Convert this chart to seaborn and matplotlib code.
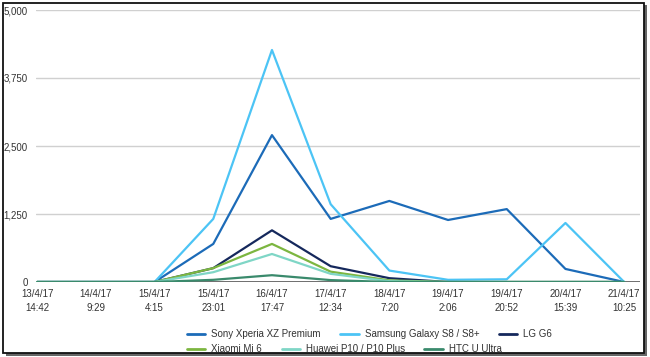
import matplotlib
matplotlib.use("Agg")
import matplotlib.pyplot as plt
from matplotlib.patches import Rectangle
from matplotlib.lines import Line2D
import seaborn as sns
import pandas as pd
import numpy as np

categories = ["13/4/17\n14:42", "14/4/17\n9:29", "15/4/17\n4:15", "15/4/17\n23:01",
              "16/4/17\n17:47", "17/4/17\n12:34", "18/4/17\n7:20", "19/4/17\n2:06",
              "19/4/17\n20:52", "20/4/17\n15:39", "21/4/17\n10:25"]

sony = [0, 0, 0, 700, 2700, 1160, 1490, 1140, 1340, 240, 0]
samsung = [0, 0, 0, 1160, 4265, 1430, 210, 40, 50, 1085, 0]
lg = [0, 0, 0, 255, 950, 290, 70, 0, 0, 0, 0]
xiaomi = [0, 0, 0, 255, 700, 190, 30, 0, 0, 0, 0]
huawei = [0, 0, 0, 180, 515, 150, 15, 0, 0, 0, 0]
htc = [0, 0, 0, 40, 125, 35, 0, 0, 0, 0, 0]

series_names = ["Sony Xperia XZ Premium", "Samsung Galaxy S8 / S8+", "LG G6",
                "Xiaomi Mi 6", "Huawei P10 / P10 Plus", "HTC U Ultra"]
series_values = [sony, samsung, lg, xiaomi, huawei, htc]
colors = ["#1c6bb8", "#4cc4f5", "#15285c", "#7cb640", "#7fd6c6", "#3a8a6c"]

yticks = [0, 1250, 2500, 3750, 5000]
ytick_labels = ["0", "1,250", "2,500", "3,750", "5,000"]

rows = []
for name, vals in zip(series_names, series_values):
    for i, v in enumerate(vals):
        rows.append({"x": i, "value": v, "series": name})
df = pd.DataFrame(rows)

sns.set_theme(style="white")
plt.rcParams["font.family"] = ["Liberation Sans", "DejaVu Sans"]

W, H = 650, 357
fig = plt.figure(figsize=(W / 100, H / 100), dpi=100)
fig.patch.set_facecolor("white")

# frame with shadow
fig.patches.append(Rectangle((6 / W, 1 - 356 / H), 641 / W, 351 / H, transform=fig.transFigure,
                             facecolor="#666666", edgecolor="none", zorder=0))
fig.patches.append(Rectangle((3 / W, 1 - 353 / H), 641 / W, 350 / H, transform=fig.transFigure,
                             facecolor="white", edgecolor="#111111", linewidth=1.3, zorder=1))

ax = fig.add_axes([36 / W, 1 - 282 / H, (640 - 36) / W, 272 / H])
ax.set_facecolor("none")
ax.set_zorder(2)

palette = dict(zip(series_names, colors))
sns.lineplot(data=df, x="x", y="value", hue="series", hue_order=series_names,
             palette=palette, linewidth=1.6, ax=ax, legend=False, zorder=3)

ax.set_ylim(0, 5000)
ax.set_xlim(-0.02, 10.27)
ax.set_yticks(yticks)
ax.set_yticklabels(ytick_labels)
ax.set_xticks(range(len(categories)))
ax.set_xticklabels(categories)
ax.tick_params(axis="both", length=0, labelsize=7, labelcolor="#333333")
ax.tick_params(axis="y", pad=6)
ax.tick_params(axis="x", pad=5)
for lab in ax.get_xticklabels():
    lab.set_linespacing(1.45)
ax.set_xlabel("")
ax.set_ylabel("")
for y in yticks[1:]:
    ax.axhline(y, color="#d0d0d0", linewidth=1, zorder=1)
ax.axhline(0, color="#555555", linewidth=1.2, zorder=2)
for s in ax.spines.values():
    s.set_visible(False)

handles = [Line2D([0], [0], color=c, linewidth=2) for c in colors]
common = dict(loc="center left", ncol=3, frameon=False, fontsize=7,
              handlelength=1.9, handletextpad=0.6, columnspacing=2.0,
              borderpad=0, borderaxespad=0)
leg1 = fig.legend(handles[:3], series_names[:3],
                  bbox_to_anchor=(187 / W, 1 - 334 / H), **common)
leg2 = fig.legend(handles[3:], series_names[3:],
                  bbox_to_anchor=(187 / W, 1 - 349 / H), **common)
for leg in (leg1, leg2):
    for t in leg.get_texts():
        t.set_color("#333333")

fig.savefig("out.png", dpi=100, facecolor="white")
